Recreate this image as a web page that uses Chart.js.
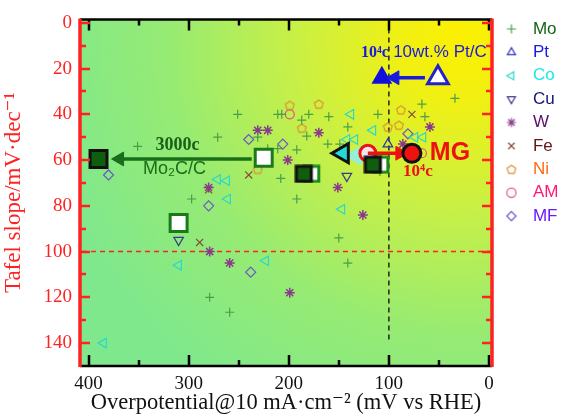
<!DOCTYPE html>
<html>
<head>
<meta charset="utf-8">
<script src="https://cdn.jsdelivr.net/npm/chart.js@4.4.1/dist/chart.umd.min.js"></script>
<style>
  html, body { margin: 0; padding: 0; background: #fff; }
  #wrap { width: 562px; height: 417px; }
</style>
</head>
<body>
<div id="wrap"><canvas id="chart"></canvas></div>
<script>
// --- valores (overpotential mV, Tafel slope mV/dec) ---
const seriesNames = ['Mo', 'Pt', 'Co', 'Cu', 'W', 'Fe', 'Ni', 'AM', 'MF'];

const moPts = [[251,40],[211,40],[207,40],[180,40],[187,42.5],[160,41],[111,40],[67,35.5],[34,33],[64,41],[141,45.5],
  [271,50],[231,50],[182,49.5],[351,54],[221,55],[211,55],[192,55.5],[161,53],[149,53],[109,65],
  [208,68],[192,77],[297,77],[150,94],[141,105],[279,120],[259,126.5]];
const ptPts = [[101,53]];
const coPts = [[271,68.5],[262,69],[261,77],[138,40],[116,47],[142,51],[134,51],[74,50],[66,50],
  [310,106],[385,140],[223,104],[147,81.5]];
const cuPts = [[310,95],[142,67]];
const wPts = [[231,47],[221,47],[170,48],[201,60],[151,72],[59,45.5],[86,53],[279,100],[259,105],[126,84],[199,118],[280,72]];
const fePts = [[240,66.5],[280,73],[289,96],[77,40]];
const niPts = [[199,36],[170,35.5],[187,46],[231,64],[88,38],[101,45.5],[90,44.7]];
const amPts = [[199,40],[67,57]];
const mfPts = [[240,51],[380,66.5],[280,80],[206,53],[81,48.5],[238,109]];

// destaques
const mo2cBefore = [[225,59]];
const mo2cAfter = [[390,59.5]];
const whiteSquare = [[310,87.5]];
const halfSquares = [[181,66],[112,62]];
const mgBefore = [[121,57]];
const mgAfter = [[77,57]];
const ptBefore = [[51,24]];
const ptAfter = [[107,24]];
const coBig = [[146,57]];
const coGhost = [[133,58]];

// setas
const greenArrow = [[237,59.5],[369,59.5]];
const blueArrow = [[64,24],[94,24]];
const redArrow = [[121,57],[89,57]];

// linhas de referência
const hLine = [[-3,100],[408.5,100]];
const vLine = [[100,-1.5],[100,140]];

// ticks
const xTicks = [0, 50, 100, 150, 200, 250, 300, 350, 400];
const yTicks = [0, 10, 20, 30, 40, 50, 60, 70, 80, 90, 100, 110, 120, 130, 140];

const markerColors = ['#4a9e4a', '#3030b8', '#2ad8cc', '#3a3a8a', '#8a3a8a', '#8a4a3a', '#e09030', '#e0508a', '#6a5ac8'];
const textColors = ['#146414', '#1a1ae0', '#18e8e8', '#141478', '#5a1066', '#661414', '#ff6a10', '#ff1a78', '#6a18ff'];

const serif = '"Liberation Serif", "DejaVu Serif", serif';
const sans = '"Liberation Sans", Arial, sans-serif';
const RED = '#ff2222';

const toXY = arr => arr.map(p => ({ x: p[0], y: p[1] }));

// --- ícones desenhados em canvas ---
function pentagonIcon(color) {
  const c = document.createElement('canvas');
  c.width = 12; c.height = 12;
  const g = c.getContext('2d');
  g.strokeStyle = color; g.lineWidth = 1.2;
  g.beginPath();
  for (let i = 0; i < 5; i++) {
    const a = -Math.PI / 2 + i * 2 * Math.PI / 5;
    const px = 6 + 4.6 * Math.cos(a), py = 6.5 + 4.6 * Math.sin(a);
    i ? g.lineTo(px, py) : g.moveTo(px, py);
  }
  g.closePath(); g.stroke();
  return c;
}
function halfSquareIcon() {
  const c = document.createElement('canvas');
  c.width = 27; c.height = 19;
  const g = c.getContext('2d');
  g.lineWidth = 3;
  g.fillStyle = '#ffffff'; g.strokeStyle = '#1a8a1a';
  g.fillRect(9.5, 2, 15, 15); g.strokeRect(9.5, 2, 15, 15);
  g.fillStyle = '#0e5e0e'; g.strokeStyle = '#111';
  g.fillRect(2, 2, 15, 15); g.strokeRect(2, 2, 15, 15);
  return c;
}
const niIcon = pentagonIcon(markerColors[6]);
const halfIcon = halfSquareIcon();

function series(i, pts, style, extra) {
  return Object.assign({
    label: seriesNames[i],
    data: toXY(pts),
    pointStyle: style,
    pointRadius: 4.5,
    pointBorderWidth: 1.2,
    borderColor: markerColors[i],
    backgroundColor: 'transparent',
    order: 3
  }, extra || {});
}

function mark(pts, opts) {
  return Object.assign({ data: toXY(pts), order: 1, pointBorderWidth: 3 }, opts);
}

function arrow(pts, color, rot) {
  return {
    data: toXY(pts), showLine: true, borderColor: color, backgroundColor: color,
    borderWidth: 3.5, pointRadius: [0, 8], pointStyle: 'triangle', pointRotation: rot,
    pointBorderWidth: 1, order: 0
  };
}

const datasets = [
  series(0, moPts, 'cross'),
  series(1, ptPts, 'triangle', { pointRadius: 5.5 }),
  series(2, coPts, 'triangle', { pointRotation: -90, pointRadius: 5.5 }),
  series(3, cuPts, 'triangle', { pointRotation: 180, pointRadius: 5.5 }),
  series(4, wPts, 'star', { pointRadius: 5, pointBorderWidth: 1.5 }),
  series(5, fePts, 'crossRot', { pointRadius: 5 }),
  series(6, niPts, niIcon),
  series(7, amPts, 'circle'),
  series(8, mfPts, 'rectRot', { pointRadius: 5 }),

  mark(coGhost, { pointStyle: 'triangle', pointRotation: -90, pointRadius: 12, backgroundColor: 'rgba(140,240,240,0.85)', borderColor: 'rgba(140,240,240,0.85)', pointBorderWidth: 0, order: 2 }),
  mark(mo2cBefore, { pointStyle: 'rect', pointRadius: 12, backgroundColor: '#ffffff', borderColor: '#1a7a1a' }),
  mark(mo2cAfter, { pointStyle: 'rect', pointRadius: 12, backgroundColor: '#0e5e0e', borderColor: '#111' }),
  mark(whiteSquare, { pointStyle: 'rect', pointRadius: 12, backgroundColor: '#ffffff', borderColor: '#1a7a1a' }),
  mark(halfSquares, { pointStyle: halfIcon }),
  mark(mgBefore, { pointStyle: 'circle', pointRadius: 8, backgroundColor: '#f6e6ea', borderColor: '#ee1111' }),
  mark(mgAfter, { pointStyle: 'circle', pointRadius: 9, backgroundColor: '#ee1111', borderColor: '#111', order: 0 }),
  mark(ptBefore, { pointStyle: 'triangle', pointRadius: 12, backgroundColor: '#ffffff', borderColor: '#2222cc' }),
  mark(ptAfter, { pointStyle: 'triangle', pointRadius: 9, backgroundColor: '#1111dd', borderColor: '#1111dd' }),
  mark(coBig, { pointStyle: 'triangle', pointRotation: -90, pointRadius: 11, backgroundColor: '#22dcdc', borderColor: '#111' }),

  arrow(greenArrow, '#1a6e1a', -90),
  arrow(blueArrow, '#1a1add', -90),
  arrow(redArrow, '#ee1111', 90),

  { data: toXY(hLine), showLine: true, borderColor: RED, borderWidth: 1.5, borderDash: [5, 4], pointRadius: 0, order: 4 },
  { data: toXY(vLine), showLine: true, borderColor: '#222', borderWidth: 1.5, borderDash: [5, 4], pointRadius: 0, order: 4 }
];

// ícone pequeno da legenda (não esticado pelo pointStyleWidth)
function legendIcon(i) {
  const ds = datasets[i];
  if (ds.pointStyle instanceof HTMLCanvasElement) return ds.pointStyle;
  const c = document.createElement('canvas');
  c.width = 14; c.height = 14;
  const g = c.getContext('2d');
  g.strokeStyle = ds.borderColor;
  g.fillStyle = 'rgba(0,0,0,0)';
  g.lineWidth = 1.2;
  Chart.helpers.drawPoint(g, { pointStyle: ds.pointStyle, rotation: ds.pointRotation || 0, radius: 4.6, borderWidth: 1.2 }, 7, 7);
  return c;
}

// textos anotados (coordenadas em unidades dos eixos)
const notes = [
  { text: '3000c', x: 311, y: 53.5, color: '#1a5e1a', font: 'bold 18px ' + serif },
  { text: 'Mo₂C/C', x: 314, y: 64, color: '#1a6e1a', font: '18px ' + sans },
  { text: '10⁴c', x: 114, y: 13, color: '#1a1add', font: 'bold 16px ' + serif },
  { text: '10wt.% Pt/C', x: 49, y: 13, color: '#1a1add', font: '17px ' + sans },
  { text: 'MG', x: 39, y: 57, color: '#ee1111', font: 'bold 25px ' + sans },
  { text: '10⁴c', x: 71, y: 65, color: '#ee1111', font: 'bold 17px ' + serif }
];

// fundo em gradiente verde -> amarelo
const bgPlugin = {
  id: 'bg',
  beforeDatasetsDraw(chart) {
    const { ctx, chartArea: a } = chart;
    const cx = a.right - 30, cy = a.top + 22;
    const grad = ctx.createRadialGradient(cx, cy, 0, cx, cy, 420);
    grad.addColorStop(0, 'rgb(252,240,0)');
    grad.addColorStop(0.15, 'rgb(240,240,20)');
    grad.addColorStop(0.4, 'rgb(200,240,70)');
    grad.addColorStop(0.7, 'rgb(150,235,115)');
    grad.addColorStop(1, 'rgb(128,232,140)');
    ctx.save();
    ctx.fillStyle = grad;
    ctx.fillRect(a.left, a.top, a.right - a.left, a.bottom - a.top);
    ctx.restore();
  }
};

// moldura e ticks para dentro
const framePlugin = {
  id: 'frame',
  afterDatasetsDraw(chart) {
    const { ctx, chartArea: a, scales } = chart;
    ctx.save();
    // textos
    notes.forEach(n => {
      ctx.font = n.font;
      ctx.fillStyle = n.color;
      ctx.textAlign = 'center';
      ctx.textBaseline = 'middle';
      ctx.fillText(n.text, scales.x.getPixelForValue(n.x), scales.y.getPixelForValue(n.y));
    });
    ctx.lineCap = 'butt';
    // eixos x (preto)
    ctx.strokeStyle = '#000';
    ctx.lineWidth = 2.5;
    ctx.beginPath();
    ctx.moveTo(a.left, a.top); ctx.lineTo(a.right, a.top);
    ctx.moveTo(a.left, a.bottom); ctx.lineTo(a.right, a.bottom);
    xTicks.forEach(v => {
      const px = Math.round(scales.x.getPixelForValue(v));
      const len = v % 100 === 0 ? 11 : 6;
      ctx.moveTo(px, a.bottom); ctx.lineTo(px, a.bottom - len);
      ctx.moveTo(px, a.top); ctx.lineTo(px, a.top + len);
    });
    ctx.stroke();
    // eixos y (vermelho)
    ctx.strokeStyle = RED;
    ctx.beginPath();
    yTicks.forEach(v => {
      const py = Math.round(scales.y.getPixelForValue(v));
      const len = v % 20 === 0 ? 10 : 6;
      ctx.moveTo(a.left, py); ctx.lineTo(a.left + len, py);
      ctx.moveTo(a.right, py); ctx.lineTo(a.right - len, py);
    });
    ctx.stroke();
    ctx.lineWidth = 3.5;
    ctx.beginPath();
    ctx.moveTo(a.left, a.top - 1); ctx.lineTo(a.left, a.bottom + 1);
    ctx.moveTo(a.right, a.top - 1); ctx.lineTo(a.right, a.bottom + 1);
    ctx.stroke();
    ctx.restore();
  }
};

new Chart(document.getElementById('chart'), {
  type: 'scatter',
  data: { datasets },
  plugins: [bgPlugin, framePlugin],
  options: {
    responsive: true,
    maintainAspectRatio: false,
    animation: false,
    devicePixelRatio: 1,
    layout: { padding: { top: 14, right: 0, bottom: 0, left: 0 } },
    scales: {
      x: {
        type: 'linear', reverse: true, min: -3, max: 408.5,
        ticks: { stepSize: 100, includeBounds: false, color: '#111', padding: 7, font: { family: serif, size: 19 } },
        grid: { display: false, drawTicks: false },
        border: { display: false },
        title: { display: true, text: 'Overpotential@10 mA·cm⁻² (mV vs RHE)', color: '#111', padding: 0, font: { family: serif, size: 22.5 } },
        afterFit(s) { s.height = 51; }
      },
      x2: {
        position: 'top', display: true,
        ticks: { display: false }, grid: { display: false, drawTicks: false }, border: { display: false },
        afterFit(s) { s.height = 3; }
      },
      y: {
        type: 'linear', reverse: true, min: -1.5, max: 150,
        ticks: { stepSize: 20, includeBounds: false, color: RED, padding: 8, font: { family: serif, size: 19 } },
        grid: { display: false, drawTicks: false },
        border: { display: false },
        title: { display: true, text: 'Tafel slope/mV·dec⁻¹', color: RED, padding: 0, font: { family: serif, size: 23 } },
        afterFit(s) { s.width = 80; }
      }
    },
    plugins: {
      tooltip: { enabled: false },
      legend: {
        position: 'right',
        align: 'start',
        maxWidth: 70,
        labels: {
          usePointStyle: true,
          pointStyleWidth: 26,
          boxHeight: 7,
          padding: 6.4,
          font: { family: sans, size: 17 },
          generateLabels(chart) {
            const items = Chart.defaults.plugins.legend.labels.generateLabels(chart);
            return items.filter(it => it.datasetIndex < seriesNames.length).map(it => {
              it.fontColor = textColors[it.datasetIndex];
              it.pointStyle = legendIcon(it.datasetIndex);
              it.rotation = 0;
              return it;
            });
          }
        }
      }
    }
  }
});
</script>
</body>
</html>
